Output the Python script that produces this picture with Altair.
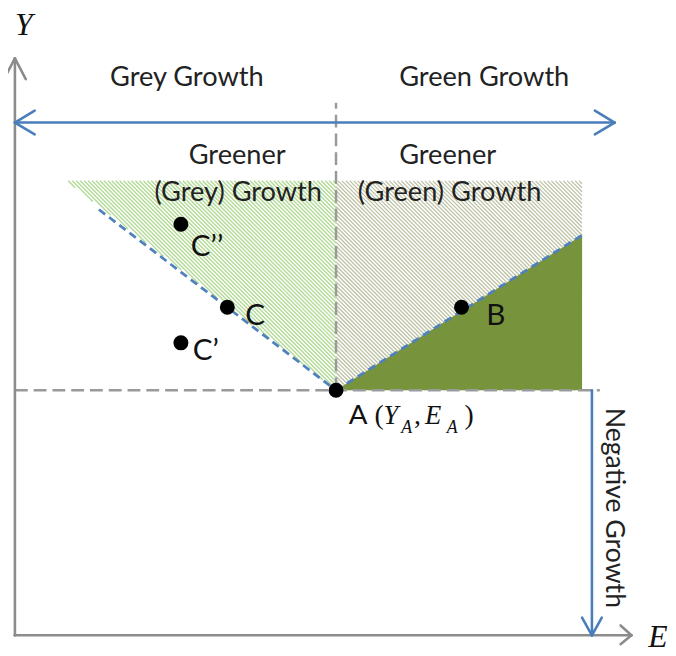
import altair as alt
import pandas as pd

# ---------------- diagram values (E = horizontal, Y = vertical units) ----------------
# key points
point_names = ["A", "B", "C", "C’", "C’’"]
point_E = [325, 452, 215, 168, 168]
point_Y = [248, 332, 332, 296, 416]

# point labels (left edge, baseline)
plabel_text = ["C’’", "C", "C’", "B"]
plabel_E = [178, 233, 180, 477]
plabel_Y = [384, 314, 279, 314]

# region titles (centre, baseline)
title_text = ["Grey Growth", "Green Growth", "Greener", "(Grey) Growth", "Greener", "(Green) Growth"]
title_E = [174, 475, 225, 226, 438, 440]
title_Y = [556, 556, 477, 440, 477, 440]

# hatched regions (polygons)
grey_zone_E = [52, 325, 325]
grey_zone_Y = [460, 460, 248]
green_zone_E = [325, 574, 574, 325]
green_zone_Y = [460, 460, 248, 248]

# solid green triangle: upper edge from A to right border
tri_E = [325, 574]
tri_Y = [248, 405]
tri_base = 248

# blue dashed boundary lines
bdash_E = [85, 325]
bdash_Y = [431, 248]
bdash_end_E = [325, 574]
bdash_end_Y = [248, 405]

# grey dashed reference lines through A
gdash_x = [0, 325]
gdash_y = [248, 248]
gdash_x2 = [592, 325]
gdash_y2 = [248, 539]

# axes (grey) and arrow heads
axis_x = [0, 0, -11, 11, 0, 613, 613]
axis_y = [0, 0, 563, 563, 0, 10, -9]
axis_x2 = [0, 624, 0, 0, 0, 624, 624]
axis_y2 = [584, 0, 584, 584, 0, 0, 0]

# blue arrows
blue_x = [0, 20, 20, 587, 587, 584, 574, 594]
blue_y = [519, 531, 507, 531, 507, 248, 18, 18]
blue_x2 = [607, 0, 0, 607, 607, 584, 584, 584]
blue_y2 = [519, 519, 519, 519, 519, 0, 0, 0]

# ---------------- helpers ----------------
x_sc = alt.Scale(domain=[-7, 661], zero=False, nice=False)
y_sc = alt.Scale(domain=[-17, 631], zero=False, nice=False)


def hatch(poly_E, poly_Y, step=4.0):
    """diagonal hatch strokes (E + Y = k) clipped to a convex polygon"""
    pts = list(zip(poly_E, poly_Y))
    ks = [e + y for e, y in pts]
    rows = []
    k = min(ks) + step / 2
    n = len(pts)
    while k < max(ks):
        hits = []
        for i in range(n):
            (e1, y1), (e2, y2) = pts[i], pts[(i + 1) % n]
            f1, f2 = e1 + y1 - k, e2 + y2 - k
            if f1 == f2:
                continue
            if f1 * f2 <= 0:
                t = f1 / (f1 - f2)
                hits.append((e1 + t * (e2 - e1), y1 + t * (y2 - y1)))
        if len(hits) >= 2:
            hits.sort()
            (a, b), (c, d) = hits[0], hits[-1]
            rows.append({"x": a, "y": b, "x2": c, "y2": d})
        k += step
    return pd.DataFrame(rows)


def segs(df, **kw):
    return alt.Chart(df).mark_rule(**kw).encode(
        x=alt.X("x:Q", scale=x_sc, axis=None),
        y=alt.Y("y:Q", scale=y_sc, axis=None),
        x2="x2:Q",
        y2="y2:Q",
    )


def texts(df, **kw):
    return alt.Chart(df).mark_text(**kw).encode(
        x=alt.X("x:Q", scale=x_sc, axis=None),
        y=alt.Y("y:Q", scale=y_sc, axis=None),
        text="t:N",
    )


layers = []

# hatched zones
layers.append(segs(hatch(grey_zone_E, grey_zone_Y), color="#b2da96", strokeWidth=1.4))
layers.append(segs(hatch(green_zone_E, green_zone_Y), color="#bcc2a4", strokeWidth=1.3))

# solid green triangle
tri_df = pd.DataFrame({"x": tri_E, "y": tri_Y, "y2": [tri_base] * len(tri_E)})
layers.append(
    alt.Chart(tri_df).mark_area(color="#77933c", opacity=1).encode(
        x=alt.X("x:Q", scale=x_sc, axis=None),
        y=alt.Y("y:Q", scale=y_sc, axis=None),
        y2="y2:Q",
    )
)

# grey dashed lines
gd = pd.DataFrame({"x": gdash_x, "y": gdash_y, "x2": gdash_x2, "y2": gdash_y2})
layers.append(segs(gd, color="#9a9a9a", strokeWidth=2.5, strokeDash=[13, 6]))

# blue dashed boundaries
bd = pd.DataFrame({"x": [bdash_E[0], bdash_end_E[0]], "y": [bdash_Y[0], bdash_end_Y[0]],
                   "x2": [bdash_E[1], bdash_end_E[1]], "y2": [bdash_Y[1], bdash_end_Y[1]]})
layers.append(segs(bd, color="#4f81bd", strokeWidth=2.8, strokeDash=[8, 5]))

# axes
ax = pd.DataFrame({"x": axis_x, "y": axis_y, "x2": axis_x2, "y2": axis_y2})
layers.append(segs(ax, color="#8c8c8c", strokeWidth=2.6, strokeCap="round"))

# blue arrows
bl = pd.DataFrame({"x": blue_x, "y": blue_y, "x2": blue_x2, "y2": blue_y2})
layers.append(segs(bl, color="#4a7ebb", strokeWidth=2.6, strokeCap="round"))

# points
pts = pd.DataFrame({"x": point_E, "y": point_Y, "name": point_names})
layers.append(
    alt.Chart(pts).mark_circle(size=230, color="black", opacity=1).encode(
        x=alt.X("x:Q", scale=x_sc, axis=None),
        y=alt.Y("y:Q", scale=y_sc, axis=None),
    )
)

# region titles
tt = pd.DataFrame({"x": title_E, "y": title_Y, "t": title_text})
layers.append(texts(tt, font="Lato", fontSize=27.5, color="#222222", align="center", baseline="alphabetic"))

# point labels
pl = pd.DataFrame({"x": plabel_E, "y": plabel_Y, "t": plabel_text})
layers.append(texts(pl, font="Lato", fontSize=30, color="#111111", align="left", baseline="alphabetic"))

# label of A: A (Y_A, E_A)
a_sans = pd.DataFrame({"x": [338], "y": [214], "t": ["A"]})
layers.append(texts(a_sans, font="Lato", fontSize=28, color="#111111", align="left", baseline="alphabetic"))
a_par = pd.DataFrame({"x": [364, 404, 455], "y": [214, 214, 214], "t": ["(", ",", ")"]})
layers.append(texts(a_par, font="Liberation Serif", fontSize=28, color="#111111", align="left", baseline="alphabetic"))
a_it = pd.DataFrame({"x": [373, 415], "y": [214, 214], "t": ["Y", "E"]})
layers.append(texts(a_it, font="Liberation Serif", fontStyle="italic", fontSize=27, color="#111111",
                    align="left", baseline="alphabetic"))
a_sub = pd.DataFrame({"x": [391, 437], "y": [205, 205], "t": ["A", "A"]})
layers.append(texts(a_sub, font="Liberation Serif", fontStyle="italic", fontSize=18, color="#111111",
                    align="left", baseline="alphabetic"))

# axis names
an = pd.DataFrame({"x": [0, 641], "y": [608, -12], "t": ["Y", "E"]})
layers.append(texts(an, font="Liberation Serif", fontStyle="italic", fontSize=32, color="#111111",
                    align="left", baseline="alphabetic"))

# Negative Growth (vertical)
ng = pd.DataFrame({"x": [606], "y": [129], "t": ["Negative Growth"]})
layers.append(texts(ng, font="Lato", fontSize=27, color="#222222", align="center", baseline="middle", angle=90))

chart = alt.layer(*layers).properties(
    width=668, height=648, padding=0, autosize=alt.AutoSizeParams(type="none")
).configure_view(stroke=None)

chart.save("out.html", embed_options={"renderer": "svg", "actions": False})
